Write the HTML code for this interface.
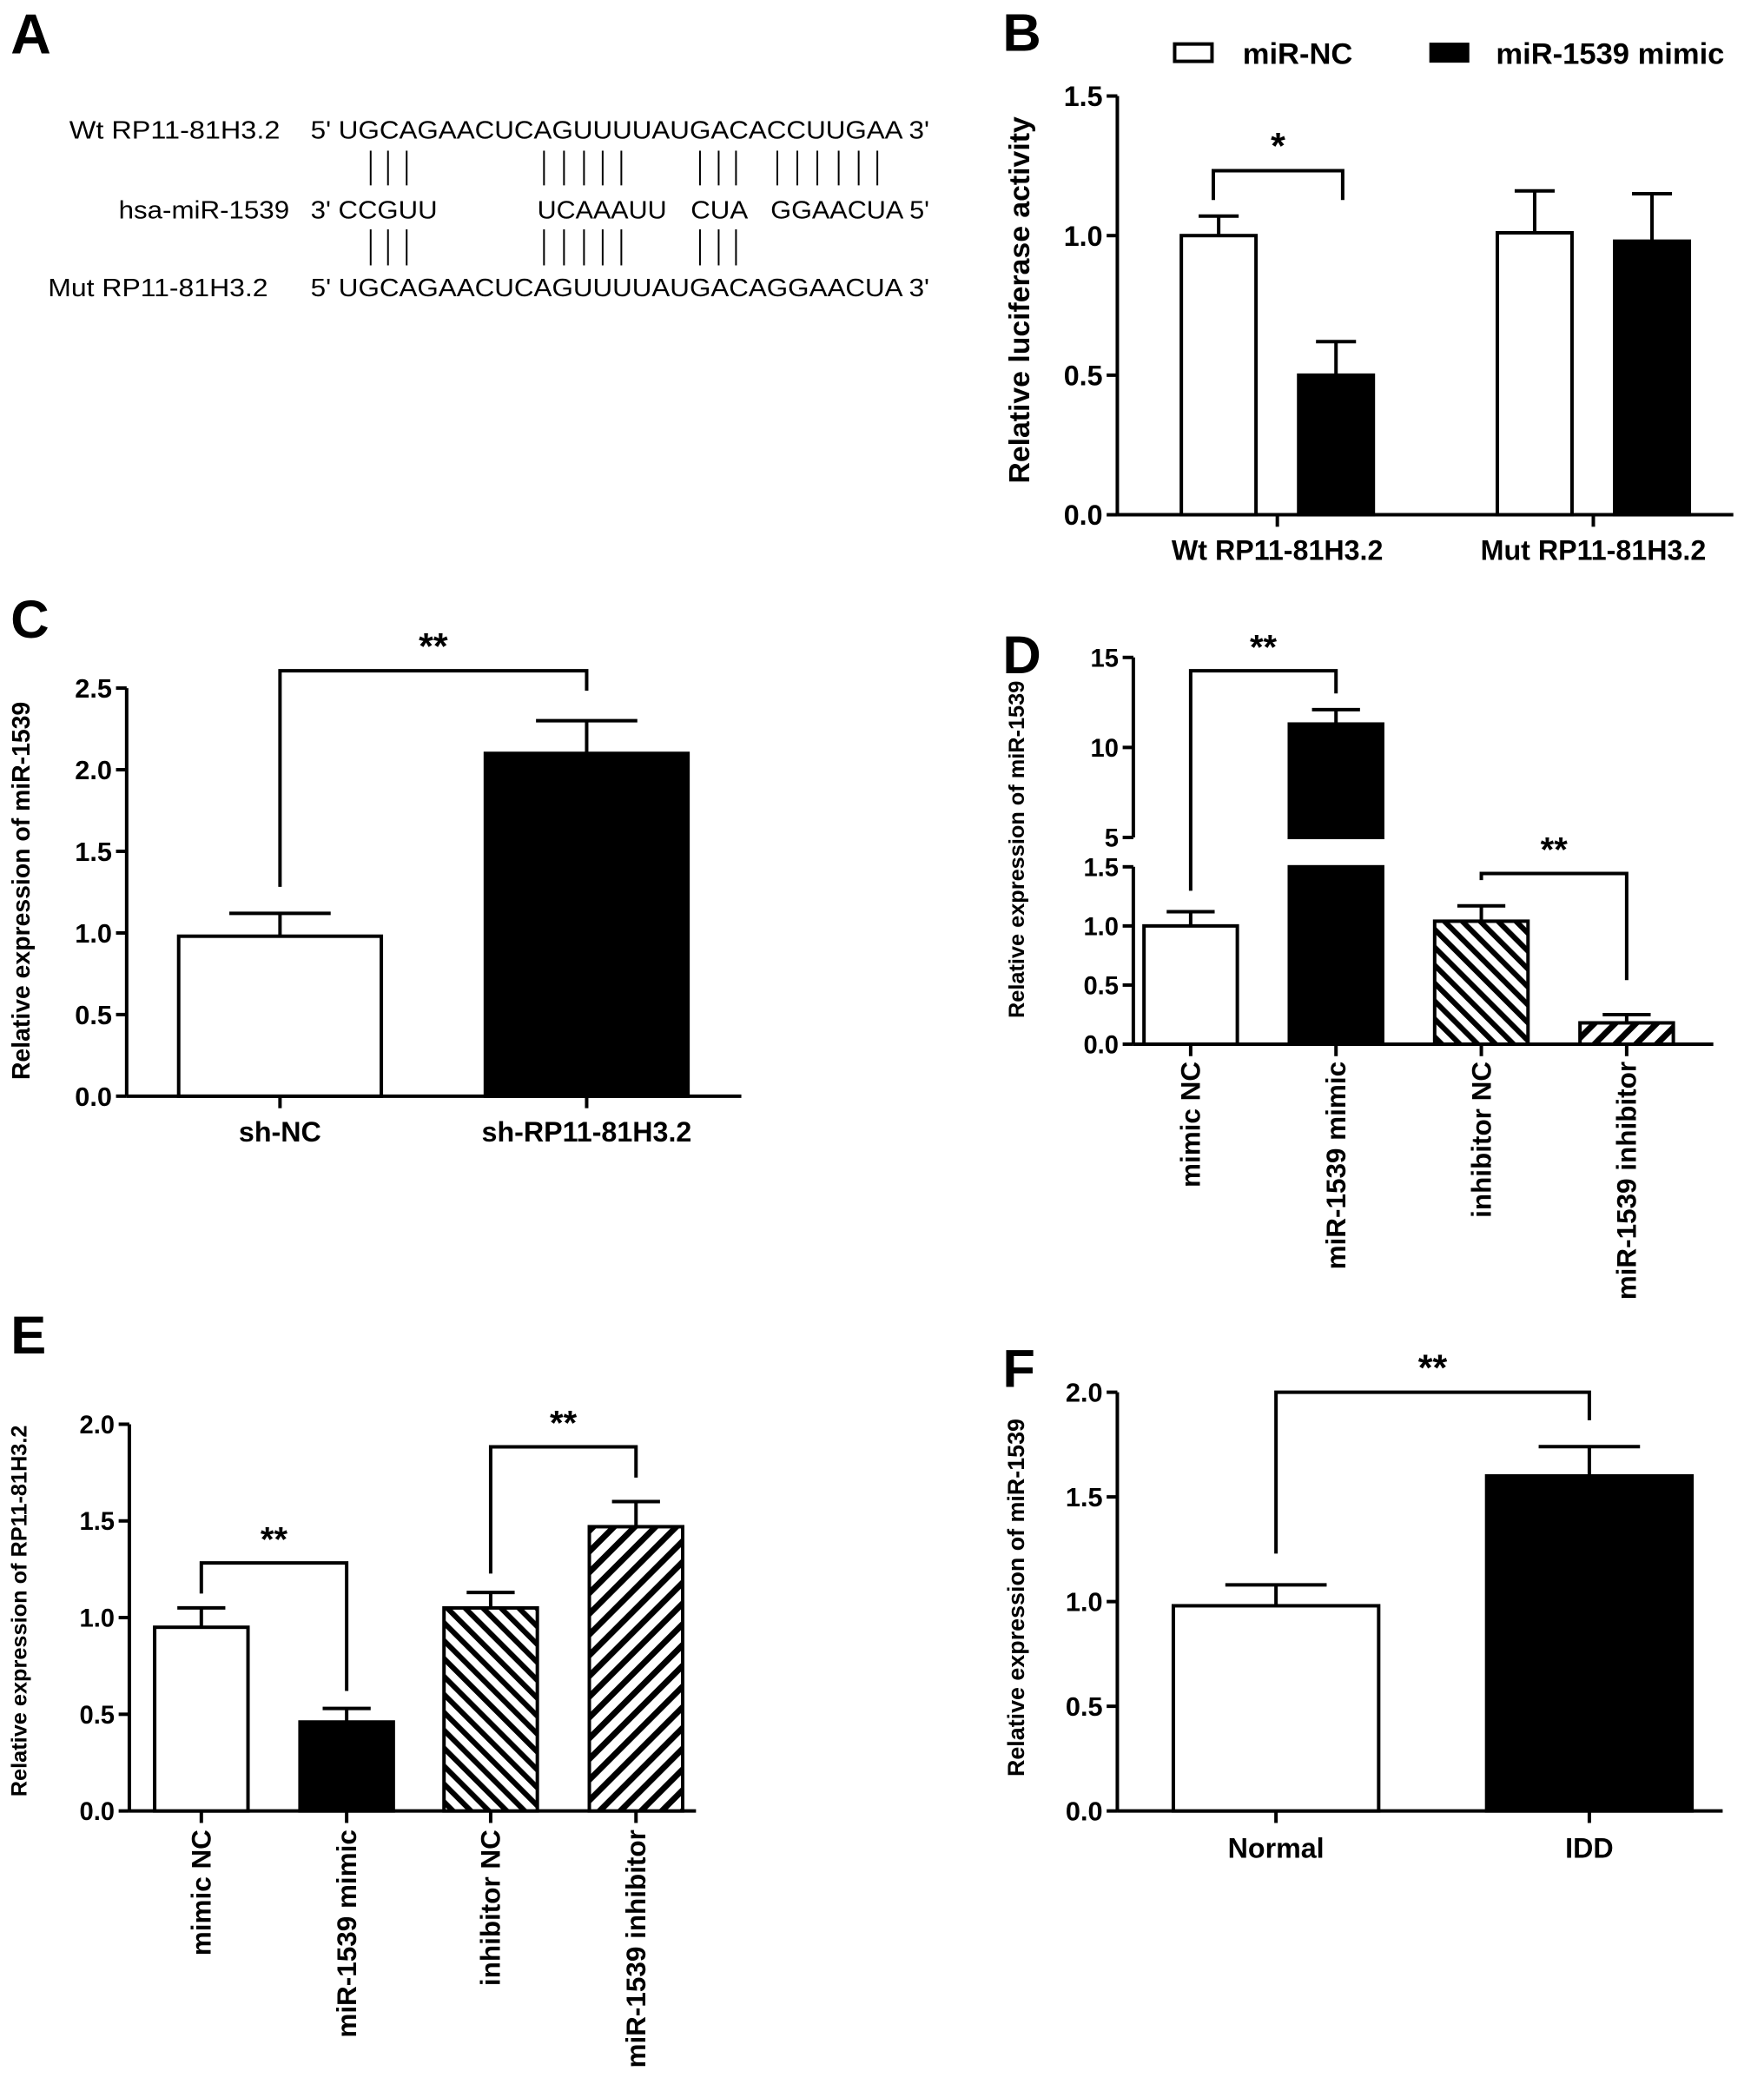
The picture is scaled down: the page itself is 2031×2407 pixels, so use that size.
<!DOCTYPE html>
<html><head><meta charset="utf-8"><style>
html,body{margin:0;padding:0;background:#fff}
svg{display:block}
text{font-family:"Liberation Sans",Arial,sans-serif;fill:#000}
.b{font-weight:bold}
</style></head><body>
<svg id="fig" width="2031" height="2407" viewBox="0 0 1323 1568" preserveAspectRatio="none" xmlns="http://www.w3.org/2000/svg">
<defs>
<pattern id="hatchBack" patternUnits="userSpaceOnUse" width="11" height="11" patternTransform="rotate(45)">
<rect width="11" height="11" fill="#fff"/><rect x="0" y="0" width="4.5" height="11" fill="#000"/></pattern>
<pattern id="hatchFwd" patternUnits="userSpaceOnUse" width="9.5" height="9.5" patternTransform="rotate(-45)">
<rect width="9.5" height="9.5" fill="#fff"/><rect x="0" y="0" width="4" height="9.5" fill="#000"/></pattern>
</defs>

<!-- Panel A -->
<g>
<text x="8" y="40" font-size="42" class="b">A</text>
<text x="52" y="104" font-size="18.5" textLength="158" lengthAdjust="spacingAndGlyphs">Wt  RP11-81H3.2</text>
<text x="233" y="104" font-size="18.5" textLength="464" lengthAdjust="spacingAndGlyphs">5' UGCAGAACUCAGUUUUAUGACACCUUGAA 3'</text>
<text x="89" y="164" font-size="18.5" textLength="128" lengthAdjust="spacingAndGlyphs">hsa-miR-1539</text>
<text x="233" y="164" font-size="18.5" textLength="95" lengthAdjust="spacingAndGlyphs">3' CCGUU</text>
<text x="403" y="164" font-size="18.5" textLength="97" lengthAdjust="spacingAndGlyphs">UCAAAUU</text>
<text x="518" y="164" font-size="18.5" textLength="43" lengthAdjust="spacingAndGlyphs">CUA</text>
<text x="578" y="164" font-size="18.5" textLength="119" lengthAdjust="spacingAndGlyphs">GGAACUA 5'</text>
<text x="36" y="222" font-size="18.5" textLength="165" lengthAdjust="spacingAndGlyphs">Mut  RP11-81H3.2</text>
<text x="233" y="222" font-size="18.5" textLength="464" lengthAdjust="spacingAndGlyphs">5' UGCAGAACUCAGUUUUAUGACAGGAACUA 3'</text>
<g id="pairs" stroke="#000" stroke-width="1.3"></g>
</g>

<!-- Panel letters -->
<text x="752" y="38" font-size="40" class="b">B</text>
<text x="8" y="478" font-size="40" class="b">C</text>
<text x="752" y="505" font-size="40" class="b">D</text>
<text x="8" y="1015" font-size="40" class="b">E</text>
<text x="752" y="1040" font-size="40" class="b">F</text>

<g id="charts"></g>
</svg>
<script>
// ---- Data ----
const bCategories = ["Wt RP11-81H3.2", "Mut RP11-81H3.2"];
const bSeriesNC = [1.0, 1.01];
const bSeriesNCErr = [1.07, 1.16];
const bSeriesMimic = [0.5, 0.98];
const bSeriesMimicErr = [0.62, 1.15];
const bTicks = [0, 0.5, 1.0, 1.5];
const bTickLabels = ["0.0", "0.5", "1.0", "1.5"];

const cCategories = ["sh-NC", "sh-RP11-81H3.2"];
const cValues = [0.98, 2.1];
const cErr = [1.12, 2.3];
const cTicks = [0, 0.5, 1.0, 1.5, 2.0, 2.5];
const cTickLabels = ["0.0", "0.5", "1.0", "1.5", "2.0", "2.5"];

const dCategories = ["mimic NC", "miR-1539 mimic", "inhibitor NC", "miR-1539 inhibitor"];
const dValues = [1.0, 11.3, 1.04, 0.18];
const dErr = [1.12, 12.1, 1.17, 0.25];
const dLowTicks = [0, 0.5, 1.0, 1.5];
const dLowTickLabels = ["0.0", "0.5", "1.0", "1.5"];
const dHighTicks = [5, 10, 15];
const dHighTickLabels = ["5", "10", "15"];

const eCategories = ["mimic NC", "miR-1539 mimic", "inhibitor NC", "miR-1539 inhibitor"];
const eValues = [0.95, 0.46, 1.05, 1.47];
const eErr = [1.05, 0.53, 1.13, 1.6];
const eTicks = [0, 0.5, 1.0, 1.5, 2.0];
const eTickLabels = ["0.0", "0.5", "1.0", "1.5", "2.0"];

const fCategories = ["Normal", "IDD"];
const fValues = [0.98, 1.6];
const fErr = [1.08, 1.74];
const fTicks = [0, 0.5, 1.0, 1.5, 2.0];
const fTickLabels = ["0.0", "0.5", "1.0", "1.5", "2.0"];

const NS = "http://www.w3.org/2000/svg";
const root = document.getElementById('charts');
function mk(tag, attrs, parent) {
  const e = document.createElementNS(NS, tag);
  for (const k in attrs) e.setAttribute(k, attrs[k]);
  (parent || root).appendChild(e);
  return e;
}
const SW = 2.6;
const fills = ["#fff", "#000", "url(#hatchFwd)", "url(#hatchBack)"];

// base pair lines panel A
const pairs = document.getElementById('pairs');
const topX = [278,291,305,408,423,438,452,466,525,539,552,583,598,613,629,644,658];
topX.forEach(x => { const l = mk('line', {x1:x, x2:x, y1:113, y2:139}, pairs);
  
   });
topX.slice(0, 11).forEach(x => { const l = mk('line', {x1:x, x2:x, y1:172, y2:199}, pairs);
  
   });

function axisY(g, x, y0, y1) { mk('line', {x1:x, x2:x, y1:y0, y2:y1, stroke:'#000', 'stroke-width':SW}, g); }
function yTicks(g, x, ticks, labels, ys, fs) {
  ticks.forEach((t, i) => {
    const y = ys(t);
    mk('line', {x1:x-8, x2:x, y1:y, y2:y, stroke:'#000', 'stroke-width':SW}, g);
    const tx = mk('text', {x:x-11, y:y+fs*0.36, 'font-size':fs, 'text-anchor':'end', 'font-weight':'bold'}, g);
    tx.textContent = labels[i];
    
    
  });
}
function bar(g, cx, w, ytop, ybase, fill, name) {
  const r = mk('rect', {x:cx-w/2, y:ytop, width:w, height:ybase-ytop, fill:fill, stroke:'#000', 'stroke-width':SW}, g);
  
  
}
function errbar(g, cx, ytop, yerr, cap) {
  const p = mk('path', {d:`M${cx},${ytop} V${yerr} M${cx-cap/2},${yerr} H${cx+cap/2}`, stroke:'#000', 'stroke-width':SW, fill:'none'}, g);
  
  
}
function bracket(g, x1, y1, x2, y2, ytop, label, fs) {
  const p = mk('path', {d:`M${x1},${y1} V${ytop} H${x2} V${y2}`, stroke:'#000', 'stroke-width':SW, fill:'none'}, g);
  
  
  const t = mk('text', {x:(x1+x2)/2, y:ytop-9, 'font-size':fs, 'text-anchor':'middle', 'font-weight':'bold'}, g);
  t.textContent = label;
  
  
}
function yTitle(g, x, y, text, fs) {
  const t = mk('text', {x:x, y:y, 'font-size':fs, 'text-anchor':'middle', 'font-weight':'bold', transform:`rotate(-90 ${x} ${y})`}, g);
  t.textContent = text;
  
  
}
function xLabel(g, x, y, text, fs, rotated) {
  const t = rotated
    ? mk('text', {x:x, y:y, 'font-size':fs, 'text-anchor':'end', 'font-weight':'bold', transform:`rotate(-90 ${x} ${y})`}, g)
    : mk('text', {x:x, y:y, 'font-size':fs, 'text-anchor':'middle', 'font-weight':'bold'}, g);
  t.textContent = text;
  
  
}

// ---- Panel B ----
(function(){
  const g = mk('g', {});
  
  
  const X0 = 838, Y0 = 386, Y15 = 72;
  const ys = v => Y0 - v * (Y0 - Y15) / 1.5;
  axisY(g, X0, Y0, Y15);
  mk('line', {x1:X0, x2:1300, y1:Y0, y2:Y0, stroke:'#000', 'stroke-width':SW}, g);
  yTicks(g, X0, bTicks, bTickLabels, ys, 21);
  const centers = [958, 1195], bw = 56, off = 44;
  bCategories.forEach((c, i) => {
    const cx = centers[i];
    mk('line', {x1:cx, x2:cx, y1:Y0, y2:Y0+9, stroke:'#000', 'stroke-width':SW}, g);
    xLabel(g, cx, 420, c, 21, false);
    bar(g, cx-off, bw, ys(bSeriesNC[i]), Y0, '#fff', 'bar-mir-nc');
    errbar(g, cx-off, ys(bSeriesNC[i]), ys(bSeriesNCErr[i]), 30);
    bar(g, cx+off, bw, ys(bSeriesMimic[i]), Y0, '#000', 'bar-mir-1539-mimic');
    errbar(g, cx+off, ys(bSeriesMimic[i]), ys(bSeriesMimicErr[i]), 30);
  });
  bracket(g, 910, 150, 1007, 150, 128, '*', 28);
  yTitle(g, 772, 225, 'Relative luciferase activity', 22);
  const l1 = mk('rect', {x:881, y:33, width:28, height:13, fill:'#fff', stroke:'#000', 'stroke-width':SW}, g);
  
  
  const t1 = mk('text', {x:932, y:48, 'font-size':22.5, 'font-weight':'bold'}, g); t1.textContent = 'miR-NC';
  
  
  const l2 = mk('rect', {x:1072, y:32, width:30, height:15, fill:'#000'}, g);
  
  
  const t2 = mk('text', {x:1122, y:48, 'font-size':22.5, 'font-weight':'bold'}, g); t2.textContent = 'miR-1539 mimic';
  
  
})();

// ---- Panel C ----
(function(){
  const g = mk('g', {});
  
  
  const X0 = 95, Y0 = 822, Ytop = 516;
  const ys = v => Y0 - v * (Y0 - Ytop) / 2.5;
  axisY(g, X0, Y0, Ytop);
  mk('line', {x1:X0, x2:556, y1:Y0, y2:Y0, stroke:'#000', 'stroke-width':SW}, g);
  yTicks(g, X0, cTicks, cTickLabels, ys, 20);
  const centers = [210, 440], bw = 152;
  cCategories.forEach((c, i) => {
    const cx = centers[i];
    mk('line', {x1:cx, x2:cx, y1:Y0, y2:Y0+9, stroke:'#000', 'stroke-width':SW}, g);
    xLabel(g, cx, 856, c, 21, false);
    bar(g, cx, bw, ys(cValues[i]), Y0, i ? '#000' : '#fff', 'bar-' + c.toLowerCase());
    errbar(g, cx, ys(cValues[i]), ys(cErr[i]), 76);
  });
  bracket(g, 210, 665, 440, 518, 503, '**', 28);
  yTitle(g, 22, 668, 'Relative expression of miR-1539', 18.5);
})();

// ---- Panel D ----
(function(){
  const g = mk('g', {});
  
  
  const X0 = 850, Y0 = 783, YL = 650, YH5 = 628, YH15 = 493;
  const yl = v => Y0 - v * (Y0 - YL) / 1.5;
  const yh = v => YH5 - (v - 5) * (YH5 - YH15) / 10;
  const ys = v => v <= 1.5 ? yl(v) : yh(v);
  axisY(g, X0, Y0, YL); axisY(g, X0, YH5, YH15);
  mk('line', {x1:X0, x2:1285, y1:Y0, y2:Y0, stroke:'#000', 'stroke-width':SW}, g);
  yTicks(g, X0, dLowTicks, dLowTickLabels, yl, 19);
  yTicks(g, X0, dHighTicks, dHighTickLabels, yh, 19);
  const centers = [893, 1002, 1111, 1220], bw = 70;
  dCategories.forEach((c, i) => {
    const cx = centers[i];
    mk('line', {x1:cx, x2:cx, y1:Y0, y2:Y0+9, stroke:'#000', 'stroke-width':SW}, g);
    xLabel(g, cx+7, 796, c, 20.5, true);
    const v = dValues[i];
    if (v > 1.5) {
      bar(g, cx, bw, yl(1.5), Y0, fills[i], 'bar-d-' + i + '-lower');
      bar(g, cx, bw, yh(v), yh(5), fills[i], 'bar-d-' + i + '-upper');
    } else {
      bar(g, cx, bw, yl(v), Y0, fills[i], 'bar-d-' + i);
    }
    errbar(g, cx, ys(v), ys(dErr[i]), 36);
  });
  bracket(g, 893, 668, 1002, 520, 503, '**', 26);
  bracket(g, 1111, 660, 1220, 735, 655, '**', 26);
  yTitle(g, 768, 637, 'Relative expression of miR-1539', 16.5);
})();

// ---- Panel E ----
(function(){
  const g = mk('g', {});
  
  
  const X0 = 97, Y0 = 1358, Ytop = 1068;
  const ys = v => Y0 - v * (Y0 - Ytop) / 2.0;
  axisY(g, X0, Y0, Ytop);
  mk('line', {x1:X0, x2:522, y1:Y0, y2:Y0, stroke:'#000', 'stroke-width':SW}, g);
  yTicks(g, X0, eTicks, eTickLabels, ys, 19);
  const centers = [151, 260, 368, 477], bw = 70;
  eCategories.forEach((c, i) => {
    const cx = centers[i];
    mk('line', {x1:cx, x2:cx, y1:Y0, y2:Y0+9, stroke:'#000', 'stroke-width':SW}, g);
    xLabel(g, cx+7, 1372, c, 20.5, true);
    bar(g, cx, bw, ys(eValues[i]), Y0, fills[i], 'bar-e-' + i);
    errbar(g, cx, ys(eValues[i]), ys(eErr[i]), 36);
  });
  bracket(g, 151, 1195, 260, 1268, 1172, '**', 26);
  bracket(g, 368, 1180, 477, 1108, 1085, '**', 26);
  yTitle(g, 20, 1208, 'Relative expression of RP11-81H3.2', 16.5);
})();

// ---- Panel F ----
(function(){
  const g = mk('g', {});
  
  
  const X0 = 838, Y0 = 1358, Ytop = 1044;
  const ys = v => Y0 - v * (Y0 - Ytop) / 2.0;
  axisY(g, X0, Y0, Ytop);
  mk('line', {x1:X0, x2:1292, y1:Y0, y2:Y0, stroke:'#000', 'stroke-width':SW}, g);
  yTicks(g, X0, fTicks, fTickLabels, ys, 20);
  const centers = [957, 1192], bw = 154;
  fCategories.forEach((c, i) => {
    const cx = centers[i];
    mk('line', {x1:cx, x2:cx, y1:Y0, y2:Y0+9, stroke:'#000', 'stroke-width':SW}, g);
    xLabel(g, cx, 1393, c, 21, false);
    bar(g, cx, bw, ys(fValues[i]), Y0, i ? '#000' : '#fff', 'bar-' + c.toLowerCase());
    errbar(g, cx, ys(fValues[i]), ys(fErr[i]), 76);
  });
  bracket(g, 957, 1165, 1192, 1065, 1044, '**', 28);
  yTitle(g, 768, 1198, 'Relative expression of miR-1539', 17.5);
})();
</script>
</body></html>
